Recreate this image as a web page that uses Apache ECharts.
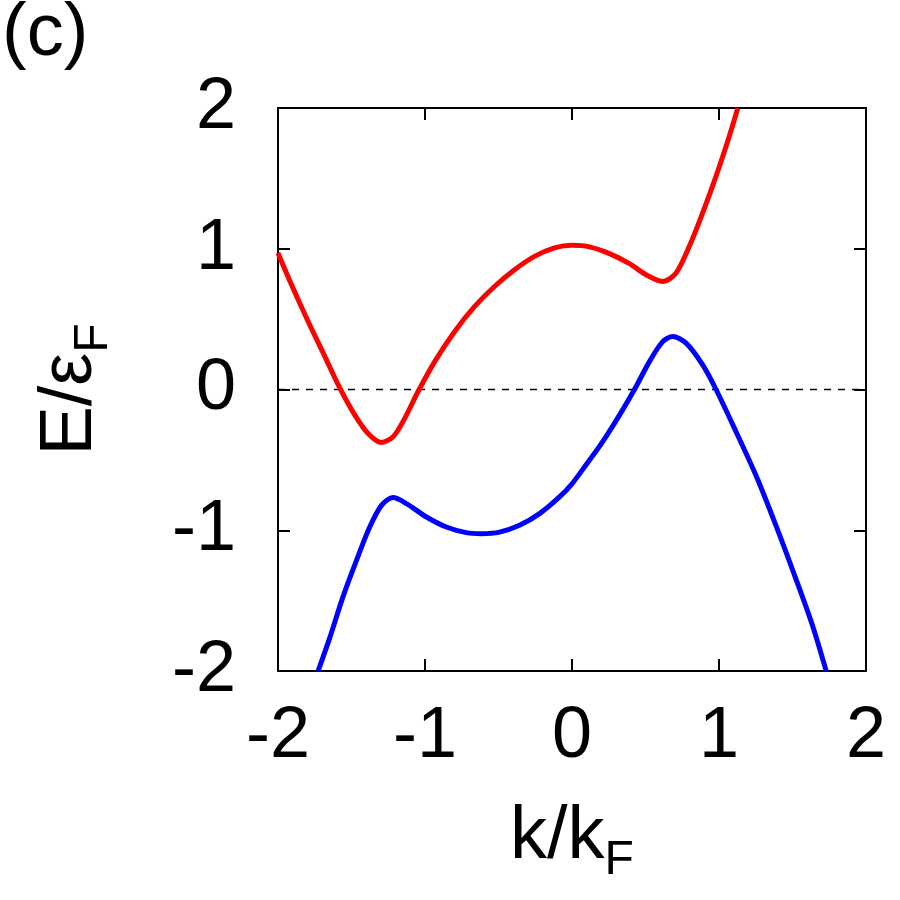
<!DOCTYPE html>
<html>
<head>
<meta charset="utf-8">
<script src="https://cdn.jsdelivr.net/npm/echarts@6/dist/echarts.min.js"></script>
<style>
html, body { margin: 0; padding: 0; background: #fff; }
#chart { width: 900px; height: 900px; }
</style>
</head>
<body>
<div id="chart"></div>
<script>
// 上能带 (red): [k/kF, E/eF]
var upperBand = [
    [-2.0, 0.97], [-1.908, 0.744], [-1.795, 0.483], [-1.681, 0.234], [-1.579, 0.01],
    [-1.478, -0.18], [-1.387, -0.312], [-1.296, -0.376], [-1.217, -0.336], [-1.138, -0.205],
    [-1.048, -0.016], [-0.934, 0.198], [-0.798, 0.412], [-0.662, 0.59], [-0.527, 0.732],
    [-0.391, 0.851], [-0.255, 0.946], [-0.119, 1.006], [0.0, 1.024], [0.119, 1.013],
    [0.255, 0.965], [0.391, 0.894], [0.504, 0.815], [0.617, 0.768], [0.708, 0.828],
    [0.798, 1.017], [0.889, 1.255], [0.98, 1.516], [1.07, 1.80], [1.128, 2.0]
];
// 下能带 (blue)
var lowerBand = [
    [-1.727, -2.0], [-1.647, -1.761], [-1.557, -1.47], [-1.466, -1.214], [-1.376, -0.977],
    [-1.296, -0.823], [-1.217, -0.768], [-1.126, -0.811], [-0.99, -0.906], [-0.855, -0.977],
    [-0.719, -1.017], [-0.617, -1.024], [-0.493, -1.013], [-0.357, -0.965], [-0.221, -0.882],
    [-0.085, -0.763], [0.0, -0.67], [0.096, -0.535], [0.209, -0.37], [0.323, -0.182],
    [0.425, 0.0], [0.527, 0.198], [0.617, 0.34], [0.685, 0.376], [0.776, 0.329],
    [0.889, 0.175], [0.98, 0.0], [1.116, -0.30], [1.251, -0.609], [1.387, -0.965],
    [1.523, -1.345], [1.636, -1.677], [1.729, -2.0]
];
// Fermi level
var fermiLine = [[-2, 0], [2, 0]];
var xRange = [-2, 2];
var yRange = [-2, 2];
var tickStep = 1;

var font = 'Liberation Sans';
var chart = echarts.init(document.getElementById('chart'));

var frameAxis = function(pos, range) {
    return {
        type: 'value',
        position: pos,
        min: range[0],
        max: range[1],
        interval: tickStep,
        axisLine: { show: true, onZero: false, lineStyle: { color: '#000', width: 2 } },
        axisTick: { show: true, inside: true, length: 12, lineStyle: { color: '#000', width: 2 } },
        axisLabel: { show: false },
        splitLine: { show: false }
    };
};

// 坐标轴标题带下标
var nameRich = {
    a: { fontSize: 74, fontFamily: font, color: '#000', lineHeight: 84, verticalAlign: 'top', padding: [0, 0, 20, 0] },
    b: { fontSize: 48, fontFamily: font, color: '#000', lineHeight: 48, verticalAlign: 'bottom' }
};

var xMain = frameAxis('bottom', xRange);
xMain.axisLabel = { show: true, margin: 30, fontSize: 72, fontFamily: font, color: '#000' };
xMain.name = '{a|k/k}{b|F}';
xMain.nameLocation = 'middle';
xMain.nameGap = 130;
xMain.nameTextStyle = { rich: nameRich };

var yMain = frameAxis('left', yRange);
yMain.axisLabel = { show: true, margin: 42, fontSize: 72, fontFamily: font, color: '#000' };
yMain.name = '{a|E/ε}{b|F}';
yMain.nameLocation = 'middle';
yMain.nameRotate = 90;
yMain.nameGap = 160;
yMain.nameTextStyle = { rich: nameRich };

var option = {
    backgroundColor: '#fff',
    animation: false,
    grid: { left: 278, right: 34, top: 108, bottom: 229, containLabel: false },
    xAxis: [xMain, frameAxis('top', xRange)],
    yAxis: [yMain, frameAxis('right', yRange)],
    graphic: [{
        type: 'text',
        left: 2,
        top: -2,
        style: { text: '(c)', fontSize: 74, fontFamily: font, fill: '#000' }
    }],
    series: [{
        type: 'line',
        data: fermiLine,
        symbol: 'none',
        lineStyle: { color: '#000', width: 1.5, type: [7, 7] },
        z: 1
    }, {
        type: 'line',
        data: upperBand,
        symbol: 'none',
        smooth: 0.3,
        lineStyle: { color: '#ff0000', width: 5 },
        z: 3
    }, {
        type: 'line',
        data: lowerBand,
        symbol: 'none',
        smooth: 0.3,
        lineStyle: { color: '#0000ff', width: 5 },
        z: 3
    }]
};
chart.setOption(option);
</script>
</body>
</html>
